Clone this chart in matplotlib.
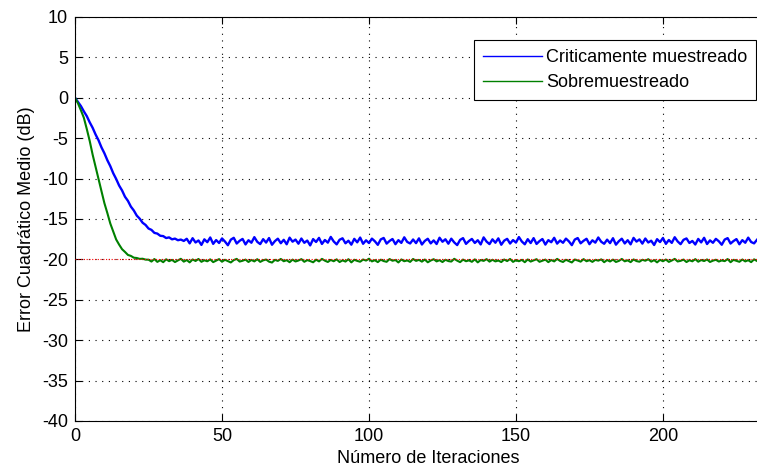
import numpy as np
import matplotlib
matplotlib.use("Agg")
import matplotlib.pyplot as plt

plt.rcParams['font.family'] = ['Liberation Sans', 'DejaVu Sans']
plt.rcParams['axes.unicode_minus'] = False

# MSE curves (dB) per iteration
blue_transient = [0, -0.52, -1.03, -1.68, -2.27, -3.04, -3.72, -4.55, -5.26, -6.14,
                  -6.87, -7.73, -8.46, -9.34, -10.05, -10.86, -11.47, -12.25, -12.76, -13.47,
                  -13.95, -14.58, -14.96, -15.47, -15.74, -16.18, -16.35, -16.72, -16.81, -17.08,
                  -17.12, -17.36, -17.28, -17.52, -17.43, -17.63, -17.55, -17.72]
blue_steady = [
    -17.45, -18.02, -17.38, -17.91, -17.66, -18.21, -17.52, -17.87, -17.29, -18.08, -17.61, -17.97, -17.41,
    -17.79, -18.25, -17.56, -17.33, -18.04, -17.70, -17.47, -18.15, -17.63, -17.94, -17.25, -17.83, -18.11,
    -17.50, -17.92, -17.36, -18.19, -17.74, -17.44, -18.00, -17.58, -18.13, -17.31, -17.81, -17.55, -18.06,
    -17.42, -17.95, -17.67, -18.27, -17.49, -17.85, -17.34, -18.09, -17.60, -17.93, -17.22, -17.78, -18.14,
    -17.57, -17.39, -18.01, -17.69, -18.18, -17.46, -17.89, -17.30, -18.07, -17.64, -17.98, -17.43, -17.76,
    -18.20, -17.53, -17.35, -18.05, -17.72, -17.48, -18.12, -17.62, -17.96, -17.27, -17.84, -18.03, -17.54,
    -17.99, -17.40, -18.16, -17.71, -17.45, -18.02, -17.65, -18.10, -17.32, -17.82, -17.51, -18.06, -17.44,
    -17.90, -18.23, -17.59, -17.37, -18.08, -17.73, -17.47, -17.97, -17.63, -18.15, -17.28, -17.80, -18.11,
    -17.52, -17.94, -17.40, -18.19, -17.68, -17.46, -18.04, -17.61, -17.92, -17.24, -17.79, -18.13, -17.50,
    -17.98, -17.37, -18.09, -17.74, -17.48, -18.17, -17.62, -17.88, -17.33, -18.05, -17.66, -17.95, -17.43,
    -17.77, -18.24, -17.55, -17.36, -18.01, -17.70, -17.45, -18.12, -17.64, -17.93, -17.29, -17.82, -18.07,
    -17.56, -17.99, -17.38, -18.18, -17.75, -17.44, -18.03, -17.63, -18.14, -17.34, -17.80, -17.53, -18.05,
    -17.42, -17.91, -17.69, -18.22, -17.50, -17.86, -17.35, -18.08, -17.60, -17.96, -17.26, -17.78, -18.12,
    -17.58, -17.41, -17.97, -17.72, -18.16, -17.47, -17.90, -17.33, -18.10, -17.65, -17.95, -17.46, -17.76,
    -18.19, -17.55, -17.37, -18.04, -17.73, -17.49, -18.13, -17.62, -17.94, -17.31, -17.85, -18.02, -17.57,
]

green_transient = [0, -0.68, -1.55, -2.47, -3.86, -5.35, -7.05, -8.57, -10.14, -11.56,
                   -13.05, -14.27, -15.56, -16.55, -17.54, -18.17, -18.74, -19.08, -19.45, -19.57,
                   -19.79, -19.83, -19.94, -19.92, -20.03]
green_steady = [
    -20.04, -20.27, -19.96, -20.31, -20.10, -20.35, -19.99, -20.22, -20.06, -20.33, -20.13, -19.93, -20.28,
    -20.08, -20.37, -20.01, -20.20, -19.95, -20.30, -20.11, -20.24, -20.00, -20.34, -20.15, -19.97, -20.29,
    -20.05, -20.21, -20.38, -20.09, -19.94, -20.27, -20.17, -20.03, -20.32, -20.07, -20.25, -19.98, -20.31,
    -20.12, -20.02, -20.28, -20.39, -20.06, -20.19, -19.95, -20.23, -20.10, -20.35, -20.03, -20.26, -20.14,
    -19.97, -20.30, -20.09, -20.21, -20.36, -20.04, -20.25, -19.94, -20.16, -20.32, -20.07, -20.23, -20.00,
    -20.33, -20.12, -20.27, -19.98, -20.37, -20.05, -20.19, -20.29, -20.02, -20.15, -19.92, -20.25, -20.10,
    -20.34, -20.04, -20.21, -20.30, -19.96, -20.17, -20.08, -20.38, -20.01, -20.23, -20.13, -20.31, -19.95,
    -20.19, -20.06, -20.28, -20.02, -20.36, -20.14, -19.98, -20.25, -20.10, -20.33, -20.05, -20.21, -20.27,
    -19.93, -20.16, -20.34, -20.03, -20.23, -20.12, -20.30, -20.00, -20.37, -20.08, -20.19, -19.97, -20.28,
    -20.05, -20.25, -20.14, -20.33, -20.02, -20.21, -19.95, -20.31, -20.10, -20.23, -20.06, -20.35, -20.01,
    -20.27, -20.12, -19.98, -20.30, -20.17, -20.03, -20.34, -20.08, -20.25, -19.94, -20.19, -20.32, -20.05,
    -20.21, -20.38, -20.02, -20.14, -20.28, -19.97, -20.23, -20.10, -20.31, -20.06, -20.16, -20.00, -20.35,
    -20.08, -20.26, -20.03, -20.32, -20.19, -19.95, -20.24, -20.12, -20.34, -20.01, -20.21, -20.29, -20.05,
    -20.17, -19.98, -20.28, -20.09, -20.37, -20.06, -20.23, -20.02, -20.31, -20.14, -19.94, -20.26, -20.18,
    -20.03, -20.33, -20.11, -20.24, -19.97, -20.29, -20.08, -20.21, -20.01, -20.32, -20.16, -20.05, -20.27,
    -20.13, -20.22, -19.96, -20.35, -20.06, -20.18, -20.30, -20.02, -20.25, -20.10, -20.34, -20.00, -20.20,
]

critico = blue_transient + blue_steady
sobre = green_transient + green_steady
mmse = -20  # theoretical floor

x_ticks = [0, 50, 100, 150, 200]
y_ticks = [-40, -35, -30, -25, -20, -15, -10, -5, 0, 5, 10]

fig = plt.figure(figsize=(7.57, 4.70), dpi=100)
ax = fig.add_axes([0.0991, 0.1043, 0.932, 0.8596])

n = np.arange(len(critico))
ax.plot(n, critico, color=(0, 0, 1), lw=1.7, label='Criticamente muestreado')
ax.plot(n, sobre, color=(0, 0.5, 0), lw=1.5, label='Sobremuestreado')
ax.axhline(mmse, color='red', lw=0.8, ls=(0, (1, 1.5)), zorder=3)

ax.set_xlim(0, 240)
ax.set_ylim(-40, 10)
ax.set_xticks(x_ticks)
ax.set_yticks(y_ticks)
ax.grid(True, color='black', ls=(0, (1, 5)), lw=0.8)
ax.tick_params(direction='in', top=True, right=True, labelsize=13, length=5, width=0.8, pad=5)
for s in ax.spines.values():
    s.set_linewidth(0.8)

ax.set_xlabel('Número de Iteraciones', fontsize=13, labelpad=4)
ax.set_ylabel('Error Cuadrático Medio (dB)', fontsize=13, labelpad=5)

leg = ax.legend(loc='upper right', bbox_to_anchor=(756 / 757, 1 - 40 / 470),
                bbox_transform=fig.transFigure, fontsize=13,
                fancybox=False, framealpha=1, edgecolor='black', borderpad=0.5,
                handlelength=3.3, handletextpad=0.2, labelspacing=0.45, borderaxespad=0)
leg.get_frame().set_linewidth(0.8)
for h in leg.get_lines():
    h.set_linewidth(1.0)

fig.savefig('out.png', dpi=100)
